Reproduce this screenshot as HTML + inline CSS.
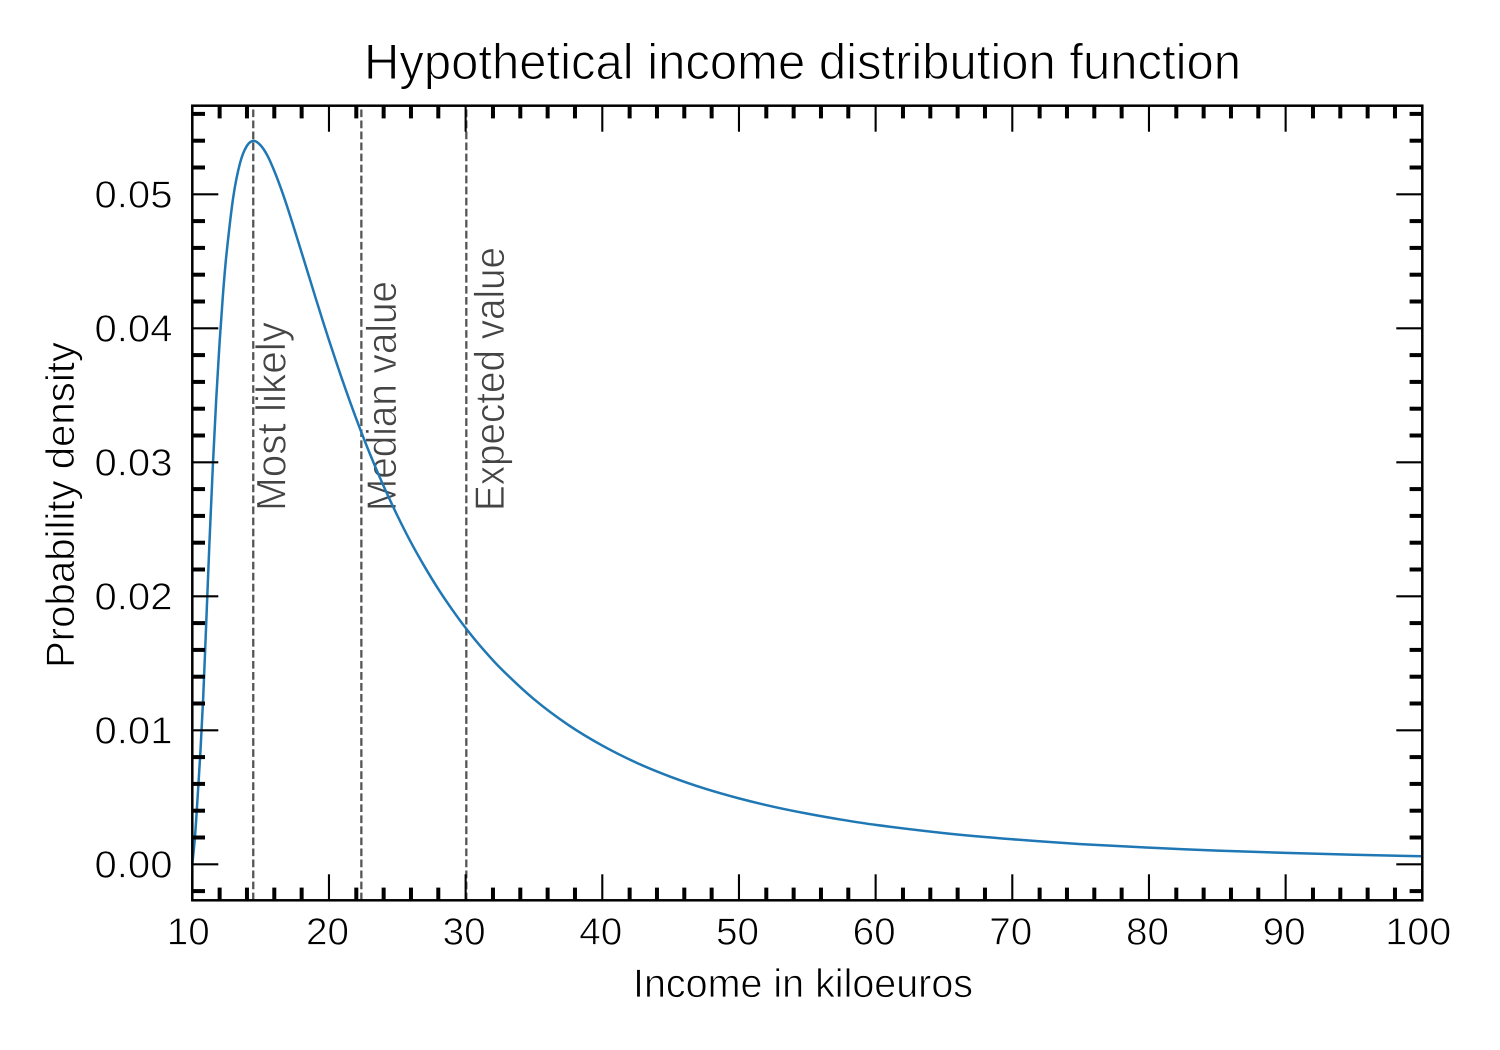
<!DOCTYPE html>
<html lang="en">
<head>
<meta charset="utf-8">
<title>Hypothetical income distribution function</title>
<style>
  html, body { margin: 0; padding: 0; background: #fff; }
  svg { display: block; }
  text { font-family: "Liberation Sans", sans-serif; fill: #000; stroke: #fff; stroke-width: 0.8px; paint-order: fill stroke; }
  .tick-label { font-size: 38px; }
  .axis-title { font-size: 40px; }
  .chart-title { font-size: 50px; stroke-width: 1px; }
  .annotation { font-size: 42px; fill: #444; }
</style>
</head>
<body>
<svg id="chart" xmlns="http://www.w3.org/2000/svg" width="1500" height="1050" viewBox="0 0 1500 1050">
  <rect x="0" y="0" width="1500" height="1050" fill="#fff"/>
  <g id="annotations"></g>
  <g id="markers"></g>
  <path id="curve" fill="none" stroke="#1f77b4" stroke-width="2.5"/>
  <g id="ticks"></g>
  <rect x="192.3" y="105.7" width="1230" height="794.6" fill="none" stroke="#000" stroke-width="2.5"/>
  <g id="labels"></g>
  <text class="chart-title" x="364" y="79" textLength="877" lengthAdjust="spacingAndGlyphs">Hypothetical income distribution function</text>
  <text class="axis-title" x="633" y="997" textLength="340" lengthAdjust="spacingAndGlyphs">Income in kiloeuros</text>
  <text class="axis-title" transform="translate(74,668) rotate(-90)" x="0" y="0" textLength="326" lengthAdjust="spacingAndGlyphs">Probability density</text>
</svg>
<script>
const incomeValues = [10, 10.2, 10.4, 10.6, 10.8, 11, 11.25, 11.5, 11.75, 12, 12.25, 12.5, 13, 13.5, 14, 14.5, 15, 15.5, 16, 16.5, 17, 17.5, 18, 18.5, 19, 19.5, 20, 21, 22, 23, 24, 25, 26, 27, 28, 29, 30, 31, 32.5, 35, 37.5, 40, 42.5, 45, 47.5, 50, 52.5, 55, 57.5, 60, 65, 70, 75, 80, 85, 90, 95, 100];
const densityValues = [0, 0.0021, 0.0052, 0.0085, 0.0125, 0.01753, 0.0239, 0.02965, 0.03472, 0.039, 0.04261, 0.04553, 0.04981, 0.05236, 0.05363, 0.05399, 0.05365, 0.05288, 0.05174, 0.0504, 0.0489, 0.04729, 0.04565, 0.044, 0.04234, 0.04071, 0.03912, 0.03608, 0.03324, 0.03062, 0.02822, 0.02603, 0.02402, 0.02221, 0.02054, 0.01903, 0.01764, 0.01638, 0.01469, 0.01232, 0.01041, 0.00886, 0.00758, 0.00653, 0.00565, 0.00492, 0.0043, 0.00378, 0.00333, 0.00294, 0.00233, 0.00187, 0.00151, 0.00124, 0.00102, 0.00085, 0.00071, 0.0006];
const markerValues = [14.46, 22.37, 30.05];
const markerNames = ['Most likely', 'Median value', 'Expected value'];
const xTickValues = [10, 20, 30, 40, 50, 60, 70, 80, 90, 100];
const xTickLabels = ['10', '20', '30', '40', '50', '60', '70', '80', '90', '100'];
const yTickValues = [0, 0.01, 0.02, 0.03, 0.04, 0.05];
const yTickLabels = ['0.00', '0.01', '0.02', '0.03', '0.04', '0.05'];

const NS = 'http://www.w3.org/2000/svg';
const plot = { left: 192.3, right: 1422.3, top: 105.7, bottom: 900.3 };
const xDomain = [10, 100];
const yZeroPx = 864.3;
const yPxPerUnit = 13400;

function scaleX(v) {
  return plot.left + (v - xDomain[0]) / (xDomain[1] - xDomain[0]) * (plot.right - plot.left);
}
function scaleY(v) {
  return yZeroPx - v * yPxPerUnit;
}
function addLine(parent, x1, y1, x2, y2, width, name) {
  const el = document.createElementNS(NS, 'line');
  el.setAttribute('x1', x1);
  el.setAttribute('y1', y1);
  el.setAttribute('x2', x2);
  el.setAttribute('y2', y2);
  el.setAttribute('stroke', '#000');
  el.setAttribute('stroke-width', width);
  
  
  parent.appendChild(el);
  return el;
}
function addText(parent, content, x, y, anchor, length, name) {
  const el = document.createElementNS(NS, 'text');
  el.setAttribute('class', 'tick-label');
  el.setAttribute('x', x);
  el.setAttribute('y', y);
  el.setAttribute('text-anchor', anchor);
  el.setAttribute('textLength', length);
  el.setAttribute('lengthAdjust', 'spacingAndGlyphs');
  
  
  el.textContent = content;
  parent.appendChild(el);
}

/* curve: cubic Hermite segments through the sampled points, parametrised by x */
const pts = incomeValues.map((v, i) => [scaleX(v), scaleY(densityValues[i])]);
function slopeAt(i) {
  const a = pts[Math.max(i - 1, 0)], b = pts[Math.min(i + 1, pts.length - 1)];
  return (b[1] - a[1]) / (b[0] - a[0]);
}
let d = 'M' + pts[0][0].toFixed(2) + ' ' + pts[0][1].toFixed(2);
for (let i = 0; i < pts.length - 1; i++) {
  const p1 = pts[i], p2 = pts[i + 1];
  const h = (p2[0] - p1[0]) / 3;
  const c1x = p1[0] + h, c1y = p1[1] + slopeAt(i) * h;
  const c2x = p2[0] - h, c2y = p2[1] - slopeAt(i + 1) * h;
  d += 'C' + c1x.toFixed(2) + ' ' + c1y.toFixed(2) + ' ' + c2x.toFixed(2) + ' ' + c2y.toFixed(2) + ' ' + p2[0].toFixed(2) + ' ' + p2[1].toFixed(2);
}
document.getElementById('curve').setAttribute('d', d);

/* ticks */
const ticks = document.getElementById('ticks');
const MAJOR_LEN = 26, MINOR_LEN = 12.7, MAJOR_W = 2.1, MINOR_W = 4;
xTickValues.forEach(v => {
  const x = scaleX(v);
  addLine(ticks, x, plot.bottom, x, plot.bottom - MAJOR_LEN, MAJOR_W, 'x-major-tick-bottom');
  addLine(ticks, x, plot.top, x, plot.top + MAJOR_LEN, MAJOR_W, 'x-major-tick-top');
});
yTickValues.forEach(v => {
  const y = scaleY(v);
  addLine(ticks, plot.left, y, plot.left + MAJOR_LEN, y, MAJOR_W, 'y-major-tick-left');
  addLine(ticks, plot.right, y, plot.right - MAJOR_LEN, y, MAJOR_W, 'y-major-tick-right');
});
for (let v = 12; v < 100; v += 2) {
  if (v % 10 === 0) continue;
  const x = scaleX(v);
  addLine(ticks, x, plot.bottom, x, plot.bottom - MINOR_LEN, MINOR_W, 'x-minor-tick-bottom');
  addLine(ticks, x, plot.top, x, plot.top + MINOR_LEN, MINOR_W, 'x-minor-tick-top');
}
for (let k = -1; k <= 28; k++) {
  if (k % 5 === 0) continue;
  const y = scaleY(k * 0.002);
  addLine(ticks, plot.left, y, plot.left + MINOR_LEN, y, MINOR_W, 'y-minor-tick-left');
  addLine(ticks, plot.right, y, plot.right - MINOR_LEN, y, MINOR_W, 'y-minor-tick-right');
}

/* tick labels */
const labels = document.getElementById('labels');
xTickValues.forEach((v, i) => {
  const s = xTickLabels[i];
  const shift = s.length === 3 ? 4 : (i === 0 ? 4 : 1.5);
  addText(labels, s, scaleX(v) - shift, 944.5, 'middle', s.length === 3 ? 66 : 43, 'x-tick-label');
});
yTickValues.forEach((v, i) => {
  addText(labels, yTickLabels[i], 172.5, scaleY(v) + 13, 'end', 78, 'y-tick-label');
});

/* marker lines and their annotations */
const markers = document.getElementById('markers');
const annotations = document.getElementById('annotations');
const annotationOffsets = [32, 34.7, 37.7];
const annotationLengths = [189, 230, 264];
markerValues.forEach((v, i) => {
  const x = scaleX(v);
  const line = addLine(markers, x, plot.bottom, x, plot.top, 2.3, 'marker-line');
  line.setAttribute('stroke', '#555');
  line.setAttribute('stroke-dasharray', '7.7 3.33');

  const t = document.createElementNS(NS, 'text');
  t.setAttribute('class', 'annotation');
  t.setAttribute('transform', 'translate(' + (x + annotationOffsets[i]) + ',511) rotate(-90)');
  t.setAttribute('textLength', annotationLengths[i]);
  t.setAttribute('lengthAdjust', 'spacingAndGlyphs');
  
  
  t.textContent = markerNames[i];
  annotations.appendChild(t);
});
</script>
</body>
</html>
